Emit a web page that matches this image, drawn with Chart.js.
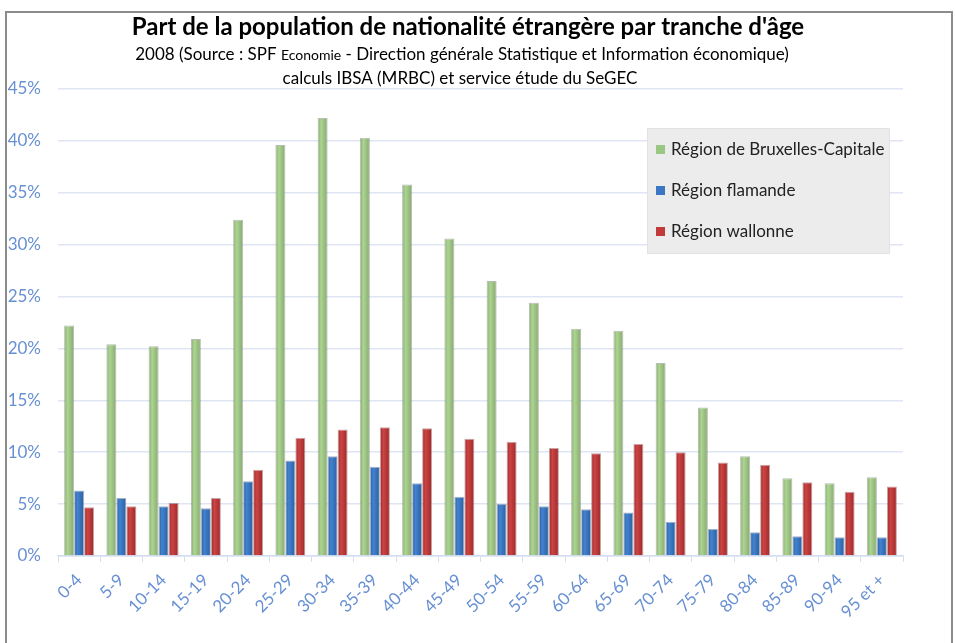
<!DOCTYPE html>
<html>
<head>
<meta charset="utf-8">
<script src="https://cdn.jsdelivr.net/npm/chart.js@4.4.0/dist/chart.umd.min.js"></script>
<style>
body { margin: 0; background: #fff; }
#wrap { position: relative; width: 955px; height: 643px; }
</style>
</head>
<body>
<div id="wrap"><canvas id="myChart" width="955" height="643"></canvas></div>
<script>
// tranches d'âge
let labels = ['0-4', '5-9', '10-14', '15-19', '20-24', '25-29', '30-34', '35-39', '40-44', '45-49',
    '50-54', '55-59', '60-64', '65-69', '70-74', '75-79', '80-84', '85-89', '90-94', '95 et +'];

// % de population étrangère
let bruxelles = [22.2, 20.4, 20.2, 20.9, 32.4, 39.6, 42.2, 40.3, 35.8, 30.6,
    26.5, 24.4, 21.9, 21.7, 18.6, 14.3, 9.6, 7.5, 7.0, 7.6];
let flamande = [6.3, 5.6, 4.8, 4.6, 7.2, 9.2, 9.6, 8.6, 7.0, 5.7,
    5.0, 4.8, 4.5, 4.2, 3.3, 2.6, 2.3, 1.9, 1.8, 1.8];
let wallonne = [4.7, 4.8, 5.1, 5.6, 8.3, 11.4, 12.2, 12.4, 12.3, 11.3,
    11.0, 10.4, 9.9, 10.8, 10.0, 9.0, 8.8, 7.1, 6.2, 6.7];

let seriesNames = ['Région de Bruxelles-Capitale', 'Région flamande', 'Région wallonne'];
let yMax = 45;
let yStep = 5;

let axisBlue = '#6790d2';

// gradient horizontal sur chaque barre (effet relief)
function barGradient(dark, light) {
    return function(context) {
        if (context.dataIndex === undefined) return light;
        let chart = context.chart;
        let bar = chart.getDatasetMeta(context.datasetIndex).data[context.dataIndex];
        if (!bar || bar.x === undefined || !bar.width) return light;
        let g = chart.ctx.createLinearGradient(bar.x - bar.width / 2, 0, bar.x + bar.width / 2, 0);
        g.addColorStop(0, dark);
        g.addColorStop(0.35, light);
        g.addColorStop(1, dark);
        return g;
    };
}

let decorPlugin = {
    id: 'decor',
    beforeDraw(chart) {
        let ctx = chart.ctx;
        ctx.save();
        ctx.fillStyle = '#fff';
        ctx.fillRect(0, 0, chart.width, chart.height);
        // cadre
        ctx.strokeStyle = '#8c8c8c';
        ctx.lineWidth = 2;
        ctx.beginPath();
        ctx.moveTo(6, 650);
        ctx.lineTo(6, 12);
        ctx.lineTo(952, 12);
        ctx.lineTo(952, 650);
        ctx.stroke();
        ctx.restore();
    },
    afterDraw(chart) {
        let ctx = chart.ctx;
        ctx.save();
        ctx.fillStyle = '#000';
        ctx.textAlign = 'center';
        ctx.textBaseline = 'middle';
        ctx.font = 'bold 24px Lato';
        ctx.fillText("Part de la population de nationalité étrangère par tranche d'âge", 468, 27);

        // sous-titre avec "Economie" en plus petit
        let parts = [
            ['2008 (Source : SPF ', '17px Lato'],
            ['Economie', '14px Lato'],
            [' - Direction générale Statistique et Information économique)', '17px Lato']
        ];
        let total = 0;
        parts.forEach(function(p) { ctx.font = p[1]; total += ctx.measureText(p[0]).width; });
        let x = 462 - total / 2;
        ctx.textAlign = 'left';
        parts.forEach(function(p) {
            ctx.font = p[1];
            ctx.fillText(p[0], x, 55);
            x += ctx.measureText(p[0]).width;
        });
        ctx.textAlign = 'center';
        ctx.font = '17px Lato';
        ctx.fillText('calculs IBSA (MRBC) et service étude du SeGEC', 460, 79);

        // légende
        ctx.fillStyle = '#ececec';
        ctx.fillRect(647, 128, 243, 126);
        ctx.strokeStyle = '#e2e2e2';
        ctx.lineWidth = 1;
        ctx.strokeRect(647.5, 128.5, 242, 125);
        let rows = [149, 190, 231];
        ctx.textAlign = 'left';
        ctx.font = '17px Lato';
        chart.data.datasets.forEach(function(ds, i) {
            ctx.fillStyle = ds.legendColor;
            ctx.fillRect(656, rows[i] - 4, 9, 9);
            ctx.fillStyle = '#222';
            ctx.fillText(ds.label, 671, rows[i] + 1);
        });
        ctx.restore();
    }
};

let data = {
    labels: labels,
    datasets: [
        { label: seriesNames[0], data: bruxelles, legendColor: '#9bc784',
          backgroundColor: barGradient('#87a772', '#acd590'), borderColor: 'rgba(90,110,80,0.45)', borderWidth: 1 },
        { label: seriesNames[1], data: flamande, legendColor: '#3a76c2',
          backgroundColor: barGradient('#2a5d9f', '#4283cf'), borderColor: 'rgba(30,60,110,0.4)', borderWidth: 1 },
        { label: seriesNames[2], data: wallonne, legendColor: '#c13a3a',
          backgroundColor: barGradient('#9c2828', '#cc4444'), borderColor: 'rgba(110,30,30,0.4)', borderWidth: 1 }
    ]
};

let config = {
    type: 'bar',
    data: data,
    plugins: [decorPlugin],
    options: {
        responsive: false,
        animation: false,
        devicePixelRatio: 1,
        layout: { padding: { top: 89, right: 52, left: 0, bottom: 0 } },
        datasets: { bar: { categoryPercentage: 0.71, barPercentage: 1 } },
        plugins: {
            legend: { display: false },
            title: { display: false },
            tooltip: { enabled: false }
        },
        scales: {
            x: {
                afterFit: function(scale) { scale.height = 87; },
                grid: { drawOnChartArea: false, drawTicks: true, tickLength: 6, color: '#d3ddef', offset: true },
                border: { color: '#d3ddef', width: 1.5 },
                ticks: {
                    autoSkip: false, maxRotation: 45, minRotation: 45, padding: 8,
                    color: axisBlue, font: { family: 'Lato', size: 17 }
                }
            },
            y: {
                min: 0, max: yMax,
                afterFit: function(scale) { scale.width = 58; },
                grid: { color: '#dfe6f3', lineWidth: 1.5, drawTicks: false },
                border: { display: false },
                ticks: {
                    stepSize: yStep, padding: 17,
                    color: axisBlue, font: { family: 'Lato', size: 17 },
                    callback: function(v) { return v + '%'; }
                }
            }
        }
    }
};

let myChart = new Chart(document.getElementById('myChart'), config);
myChart.update('none'); // second passage pour les dégradés
</script>
</body>
</html>
